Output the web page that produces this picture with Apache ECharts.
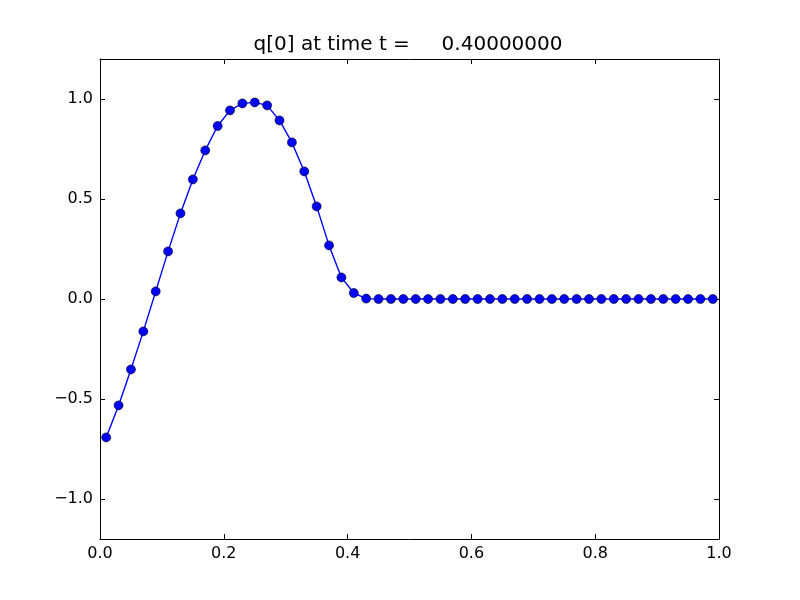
<!DOCTYPE html>
<html>
<head>
<meta charset="utf-8">
<script src="https://cdn.jsdelivr.net/npm/echarts@6/dist/echarts.min.js"></script>
<style>html,body{margin:0;padding:0;background:#fff;}#c{width:800px;height:600px;}</style>
</head>
<body>
<div id="c"></div>
<script>
const titleText = 'q[0] at time t =     0.40000000';
const xValues = [0.01,0.03,0.05,0.07,0.09,0.11,0.13,0.15,0.17,0.19,
                 0.21,0.23,0.25,0.27,0.29,0.31,0.33,0.35,0.37,0.39,
                 0.41,0.43,0.45,0.47,0.49,0.51,0.53,0.55,0.57,0.59,
                 0.61,0.63,0.65,0.67,0.69,0.71,0.73,0.75,0.77,0.79,
                 0.81,0.83,0.85,0.87,0.89,0.91,0.93,0.95,0.97,0.99];
const qValues = [-0.692,-0.532,-0.352,-0.162,0.038,0.238,0.428,0.598,0.743,0.865,
                 0.943,0.978,0.983,0.968,0.893,0.783,0.638,0.463,0.268,0.108,
                 0.030,0.002,0,0,0,0,0,0,0,0,
                 0,0,0,0,0,0,0,0,0,0,
                 0,0,0,0,0,0,0,0,0,0];
const xTicks = [0, 0.2, 0.4, 0.6, 0.8, 1.0];
const yTicks = [-1.0, -0.5, 0.0, 0.5, 1.0];

const font = 'DejaVu Sans';
const fmt = v => (v < 0 ? '\u2212' : '') + Math.abs(v).toFixed(1);
const chart = echarts.init(document.getElementById('c'), null, {renderer: 'canvas'});
const axisLine = {show: true, onZero: false, lineStyle: {color: '#000', width: 1}};
const tick = {show: true, inside: true, length: 5, lineStyle: {color: '#000', width: 1}};
chart.setOption({
  backgroundColor: '#fff',
  animation: false,
  title: {
    text: titleText, left: 403, textAlign: 'center', top: 30,
    textStyle: {fontFamily: font, fontSize: 20, fontWeight: 'normal', color: '#000'}
  },
  grid: {left: 100, top: 59, width: 619, height: 480, containLabel: false},
  xAxis: [
    {type: 'value', position: 'bottom', min: 0, max: 1, interval: 0.2,
     axisLine: axisLine, axisTick: Object.assign({}, tick, {customValues: xTicks}), splitLine: {show: false},
     axisLabel: {show: true, customValues: xTicks, margin: 7, fontFamily: font, fontSize: 16, color: '#000', formatter: fmt}},
    {type: 'value', position: 'top', min: 0, max: 1, interval: 0.2,
     axisLine: axisLine, axisTick: Object.assign({}, tick, {customValues: xTicks}), splitLine: {show: false}, axisLabel: {show: false}}
  ],
  yAxis: [
    {type: 'value', position: 'left', min: -1.2, max: 1.2,
     axisLine: axisLine,
     axisTick: Object.assign({}, tick, {customValues: yTicks}),
     splitLine: {show: false},
     axisLabel: {show: true, customValues: yTicks, margin: 7, fontFamily: font, fontSize: 16, color: '#000', formatter: fmt}},
    {type: 'value', position: 'right', min: -1.2, max: 1.2,
     axisLine: axisLine,
     axisTick: Object.assign({}, tick, {customValues: yTicks}),
     splitLine: {show: false}, axisLabel: {show: false}}
  ],
  series: [{
    type: 'line',
    data: xValues.map((x, i) => [x, qValues[i]]),
    symbol: 'circle', symbolSize: 9, showSymbol: true,
    lineStyle: {color: '#0000ff', width: 1.4},
    itemStyle: {color: '#0000ff', borderColor: '#000', borderWidth: 0.6},
    clip: false
  }]
});
</script>
</body>
</html>
